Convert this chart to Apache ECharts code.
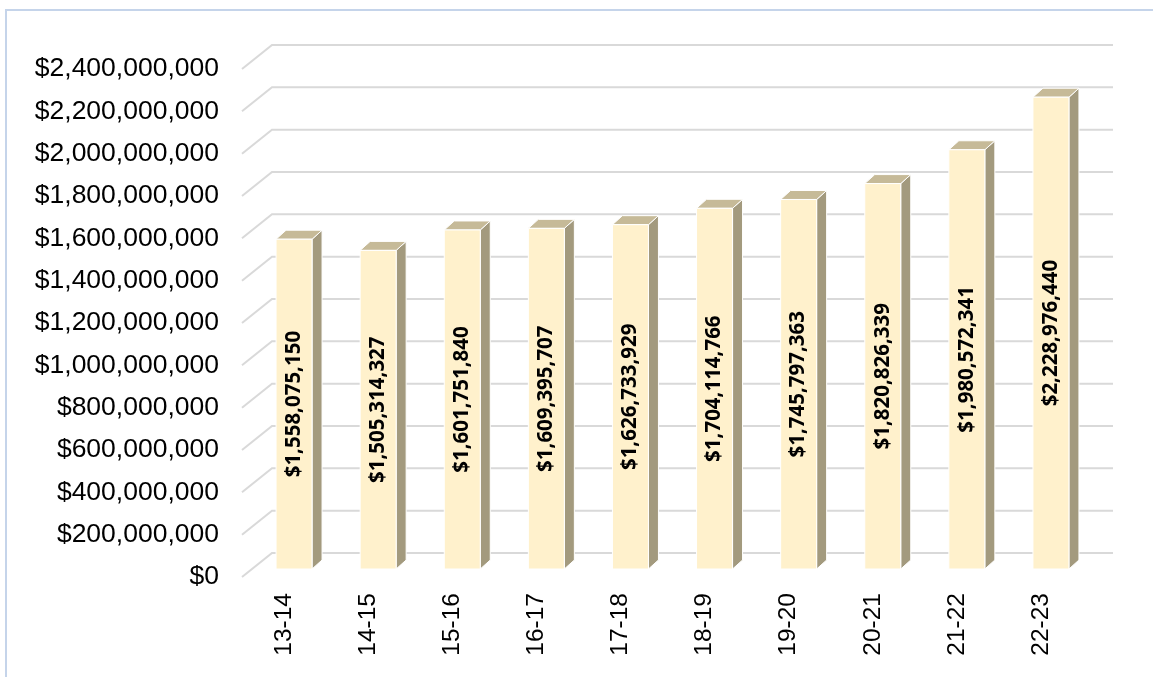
<!DOCTYPE html>
<html>
<head>
<meta charset="utf-8">
<script src="https://cdn.jsdelivr.net/npm/echarts@6/dist/echarts.min.js"></script>
<style>
html,body{margin:0;padding:0;background:#fff;}
#chart{width:1153px;height:677px;}
</style>
</head>
<body>
<div id="chart"></div>
<script>
var categories = ['13-14','14-15','15-16','16-17','17-18','18-19','19-20','20-21','21-22','22-23'];
var values = [1558075150, 1505314327, 1601751840, 1609395707, 1626733929, 1704114766, 1745797363, 1820826339, 1980572341, 2228976440];
var yTickValues = [0, 200000000, 400000000, 600000000, 800000000, 1000000000, 1200000000, 1400000000, 1600000000, 1800000000, 2000000000, 2200000000, 2400000000];

function money(v){
  var s = String(Math.round(v));
  return '$' + s.replace(/\B(?=(\d{3})+(?!\d))/g, ',');
}

// 3D projection offsets (pixels)
var WALL_DX = 30, WALL_DY = 24;   // back wall depth
var BAR_DX = 10, BAR_DY = 8;      // bar front plane offset
var BAR_DEPTH_X = 10, BAR_DEPTH_Y = 9;
var BAR_W = 36;

var chart = echarts.init(document.getElementById('chart'));
var option = {
  animation: false,
  backgroundColor: '#ffffff',
  graphic: [{
    type: 'rect', silent: true, z: 100,
    shape: { x: 6, y: 10, width: 1300, height: 800 },
    style: { fill: 'none', stroke: '#c5d4ea', lineWidth: 2 }
  }],
  grid: { left: 242, right: 70, top: 69, bottom: 100, containLabel: false },
  xAxis: {
    type: 'category',
    data: categories,
    boundaryGap: true,
    axisLine: { show: false },
    axisTick: { show: false },
    axisLabel: {
      rotate: 90, margin: 16, color: '#000',
      fontFamily: 'Liberation Sans, Arial, sans-serif', fontSize: 24.5
    }
  },
  yAxis: {
    type: 'value',
    min: 0, max: 2400000000, interval: 200000000,
    axisLine: { show: false },
    axisTick: { show: false },
    splitLine: { show: false },
    axisLabel: {
      margin: 23, color: '#000',
      fontFamily: 'Liberation Sans, Arial, sans-serif', fontSize: 26.5,
      formatter: function(v){ return money(v); }
    }
  },
  series: [
    {
      type: 'custom',
      silent: true,
      data: yTickValues,
      renderItem: function(params, api){
        var v = api.value(0);
        var y = api.coord([0, v])[1];
        var cs = params.coordSys;
        var x0 = cs.x, x1 = cs.x + cs.width;
        return {
          type: 'polyline',
          shape: { points: [[x0, y], [x0 + WALL_DX, y - WALL_DY], [x1 + WALL_DX, y - WALL_DY]] },
          style: { stroke: '#d9d9d9', lineWidth: 2, fill: null }
        };
      },
      encode: { y: 0 },
      z: 1
    },
    {
      type: 'custom',
      silent: true,
      data: values.map(function(v, i){ return [i, v]; }),
      encode: { x: 0, y: 1 },
      renderItem: function(params, api){
        var i = api.value(0), v = api.value(1);
        var pTop = api.coord([i, v]);
        var pBot = api.coord([i, 0]);
        var cx = pTop[0] + BAR_DX;
        var top = pTop[1] - BAR_DY;
        var bot = pBot[1] - BAR_DY;
        var xl = cx - BAR_W / 2, xr = cx + BAR_W / 2;
        var dx = BAR_DEPTH_X, dy = BAR_DEPTH_Y;
        var stroke = '#ffffff';
        return {
          type: 'group',
          children: [
            {
              type: 'polygon',
              shape: { points: [[xr, top], [xr + dx, top - dy], [xr + dx, bot - dy], [xr, bot]] },
              style: { fill: '#a39a7e', stroke: stroke, lineWidth: 1 }
            },
            {
              type: 'polygon',
              shape: { points: [[xl, top], [xl + dx, top - dy], [xr + dx, top - dy], [xr, top]] },
              style: { fill: '#c6ba98', stroke: stroke, lineWidth: 1 }
            },
            {
              type: 'rect',
              shape: { x: xl, y: top, width: BAR_W, height: bot - top },
              style: { fill: '#fff1cc', stroke: stroke, lineWidth: 1 }
            },
            {
              type: 'text',
              x: cx, y: (top + bot) / 2,
              rotation: Math.PI / 2,
              style: {
                text: money(v),
                fill: '#000',
                font: 'bold 20.5px "Open Sans", "Noto Sans", sans-serif',
                align: 'center',
                verticalAlign: 'middle'
              }
            }
          ]
        };
      },
      z: 2
    }
  ]
};
chart.setOption(option);
</script>
</body>
</html>
